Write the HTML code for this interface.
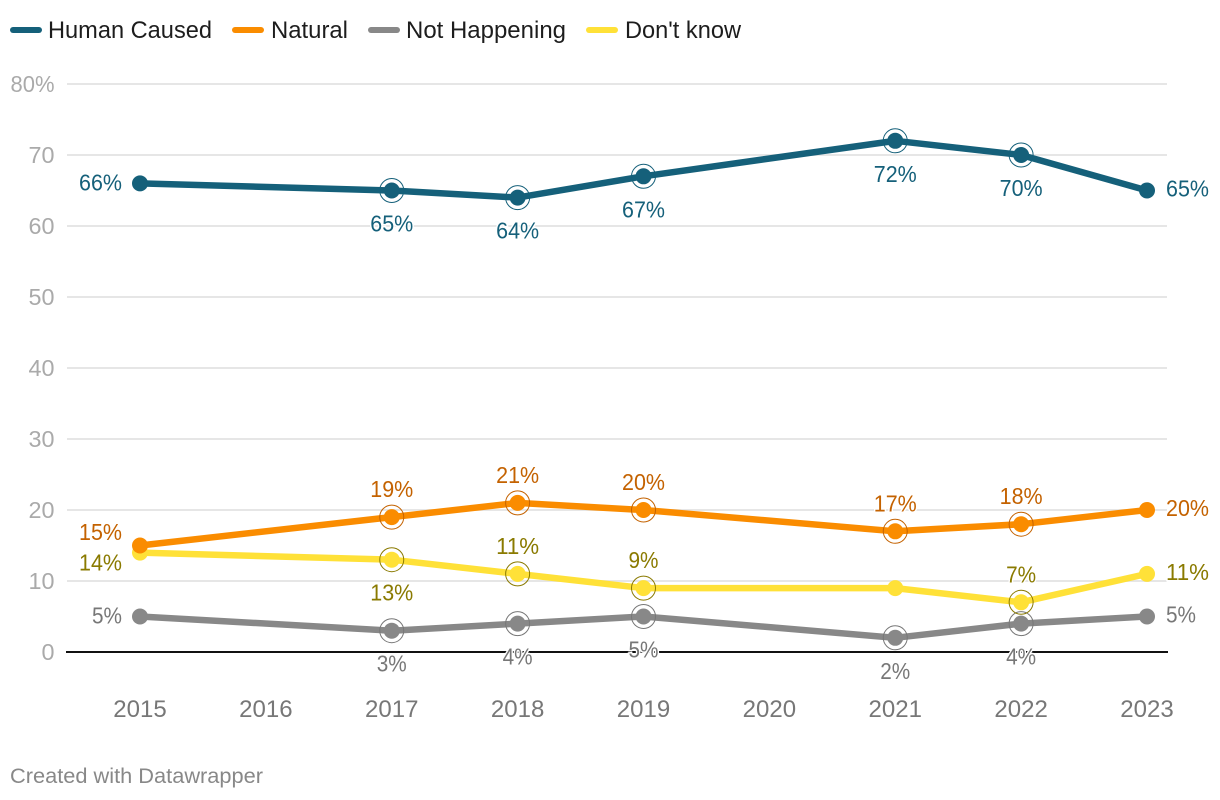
<!DOCTYPE html>
<html lang="en">
<head>
<meta charset="utf-8">
<title>Climate change opinion chart</title>
<style>
html,body{margin:0;padding:0;background:#fff;}
svg{display:block;font-family:"Liberation Sans",sans-serif;}
</style>
</head>
<body>
<svg id="chart" width="1220" height="800" viewBox="0 0 1220 800" xmlns="http://www.w3.org/2000/svg">
  <g font-size="24" fill="#1d1d1d">
    <g>
      <line x1="13" y1="30" x2="39" y2="30" stroke="#15607a" stroke-width="6" stroke-linecap="round"/>
      <text x="48" y="38" textLength="164" lengthAdjust="spacingAndGlyphs">Human Caused</text>
    </g>
    <g>
      <line x1="235" y1="30" x2="261" y2="30" stroke="#fa8c00" stroke-width="6" stroke-linecap="round"/>
      <text x="271" y="38" textLength="77" lengthAdjust="spacingAndGlyphs">Natural</text>
    </g>
    <g>
      <line x1="371" y1="30" x2="397" y2="30" stroke="#888888" stroke-width="6" stroke-linecap="round"/>
      <text x="406" y="38" textLength="160" lengthAdjust="spacingAndGlyphs">Not Happening</text>
    </g>
    <g>
      <line x1="589" y1="30" x2="615" y2="30" stroke="#ffe138" stroke-width="6" stroke-linecap="round"/>
      <text x="625" y="38" textLength="116" lengthAdjust="spacingAndGlyphs">Don't know</text>
    </g>
  </g>
  <g id="grid"></g>
  <g id="xticks"></g>
  <g id="series"></g>
  <text x="10" y="783" font-size="21" fill="#888888" textLength="253" lengthAdjust="spacingAndGlyphs">Created with Datawrapper</text>
</svg>
<script>
const years = [2015, 2016, 2017, 2018, 2019, 2020, 2021, 2022, 2023];
const yTicks = [0, 10, 20, 30, 40, 50, 60, 70, 80];
const humanCaused = [66, null, 65, 64, 67, null, 72, 70, 65];
const natural = [15, null, 19, 21, 20, null, 17, 18, 20];
const notHappening = [5, null, 3, 4, 5, null, 2, 4, 5];
const dontKnow = [14, null, 13, 11, 9, null, 9, 7, 11];

const NS = 'http://www.w3.org/2000/svg';
const xScale = function (year) { return 140 + (year - 2015) * (1147 - 140) / 8; };
const yScale = function (v) { return 652 - v * (652 - 84) / 80; };
const labelWidth = function (str) { return (str.length - 1) * 13 + 17; };

const seriesConfigs = [
  { key: 'human-caused', values: humanCaused, color: '#15607a', text: '#15607a', noRing: [], place: 'b', startDy: 0 },
  { key: 'not-happening', values: notHappening, color: '#888888', text: '#777777', noRing: [], place: 'b', startDy: 0 },
  { key: 'dont-know', values: dontKnow, color: '#ffe138', text: '#8a7a00', noRing: [2021], place: 'a', startDy: 11, below: [2017], noLabel: [2021] },
  { key: 'natural', values: natural, color: '#fa8c00', text: '#c46200', noRing: [], place: 'a', startDy: -12.5 }
];

const grid = document.getElementById('grid');
yTicks.forEach(function (t) {
  if (t !== 0) {
    const gl = document.createElementNS(NS, 'line');
    
    
    gl.setAttribute('x1', 67);
    gl.setAttribute('x2', 1167);
    gl.setAttribute('y1', yScale(t));
    gl.setAttribute('y2', yScale(t));
    gl.setAttribute('stroke', '#e6e6e6');
    gl.setAttribute('stroke-width', 2);
    grid.appendChild(gl);
  }
  const lb = document.createElementNS(NS, 'text');
  
  
  lb.setAttribute('x', 54.5);
  lb.setAttribute('y', yScale(t) + 8);
  lb.setAttribute('text-anchor', 'end');
  lb.setAttribute('font-size', 23);
  lb.setAttribute('fill', '#aaaaaa');
  const tickStr = t === 80 ? t + '%' : String(t);
  lb.textContent = tickStr;
  lb.setAttribute('textLength', t === 80 ? 44 : tickStr.length * 13);
  lb.setAttribute('lengthAdjust', 'spacingAndGlyphs');
  grid.appendChild(lb);
});

const axis = document.createElementNS(NS, 'line');


axis.setAttribute('x1', 66);
axis.setAttribute('x2', 1168);
axis.setAttribute('y1', yScale(0));
axis.setAttribute('y2', yScale(0));
axis.setAttribute('stroke', '#111111');
axis.setAttribute('stroke-width', 2);
grid.appendChild(axis);

const xticks = document.getElementById('xticks');
years.forEach(function (yr) {
  const t = document.createElementNS(NS, 'text');
  
  
  t.setAttribute('x', xScale(yr));
  t.setAttribute('y', 717);
  t.setAttribute('text-anchor', 'middle');
  t.setAttribute('font-size', 24);
  t.setAttribute('fill', '#777777');
  t.textContent = String(yr);
  xticks.appendChild(t);
});

const layer = document.getElementById('series');
const labelLayer = document.createElementNS(NS, 'g');



seriesConfigs.forEach(function (s) {
  const g = document.createElementNS(NS, 'g');
  
  
  const pts = [];
  years.forEach(function (yr, i) {
    if (s.values[i] !== null) pts.push([xScale(yr), yScale(s.values[i]), yr, s.values[i]]);
  });
  const line = document.createElementNS(NS, 'polyline');
  
  
  line.setAttribute('points', pts.map(function (p) { return p[0] + ',' + p[1]; }).join(' '));
  line.setAttribute('fill', 'none');
  line.setAttribute('stroke', s.color);
  line.setAttribute('stroke-width', 6.5);
  line.setAttribute('stroke-linejoin', 'round');
  g.appendChild(line);

  pts.forEach(function (p, idx) {
    const isEnd = idx === 0 || idx === pts.length - 1;
    const dot = document.createElementNS(NS, 'circle');
    
    
    dot.setAttribute('cx', p[0]);
    dot.setAttribute('cy', p[1]);
    dot.setAttribute('r', 8);
    dot.setAttribute('fill', s.color);
    g.appendChild(dot);
    if (!isEnd && s.noRing.indexOf(p[2]) === -1) {
      const ring = document.createElementNS(NS, 'circle');
      
      
      ring.setAttribute('cx', p[0]);
      ring.setAttribute('cy', p[1]);
      ring.setAttribute('r', 12);
      ring.setAttribute('fill', 'none');
      ring.setAttribute('stroke', s.text);
      ring.setAttribute('stroke-width', 1);
      g.appendChild(ring);
    }
    if (s.noLabel && s.noLabel.indexOf(p[2]) !== -1) return;
    const lab = document.createElementNS(NS, 'text');
    
    
    let x = p[0], base = p[1], anchor = 'middle';
    if (idx === 0) { x = p[0] - 18; anchor = 'end'; base += s.startDy + 7; }
    else if (idx === pts.length - 1) { x = p[0] + 19; anchor = 'start'; base += 6; }
    else if (s.place === 'b' || (s.below && s.below.indexOf(p[2]) !== -1)) { base += 41; }
    else { base -= 20; }
    const str = p[3] + '%';
    lab.setAttribute('x', x);
    lab.setAttribute('y', base);
    lab.setAttribute('text-anchor', anchor);
    lab.setAttribute('font-size', 23);
    lab.setAttribute('textLength', labelWidth(str));
    lab.setAttribute('lengthAdjust', 'spacingAndGlyphs');
    lab.setAttribute('fill', s.text);
    lab.setAttribute('stroke', '#ffffff');
    lab.setAttribute('stroke-width', 3);
    lab.setAttribute('paint-order', 'stroke');
    lab.textContent = str;
    labelLayer.appendChild(lab);
  });
  layer.appendChild(g);
});
layer.appendChild(labelLayer);
</script>
</body>
</html>
